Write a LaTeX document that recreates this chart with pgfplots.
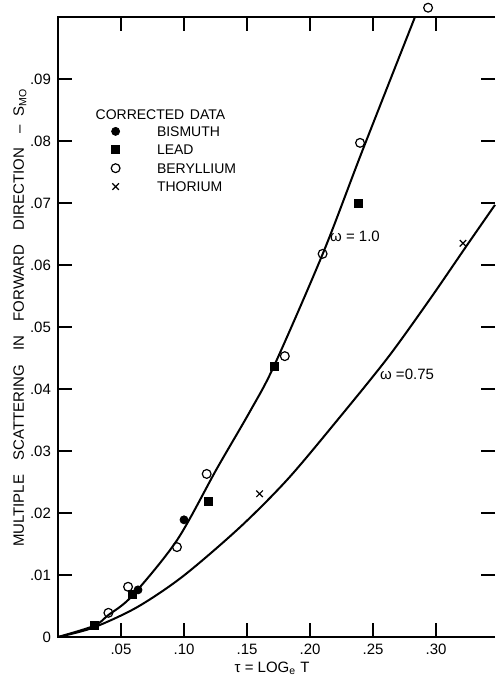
\documentclass[border=0pt]{standalone}
\usepackage{fontspec}
\setmainfont{Liberation Sans}
\usepackage{pgfplots}
\pgfplotsset{compat=1.18}
\pgfplotsset{
  lgmark/.style={legend image code/.code={%
    \draw[##1] plot coordinates {(0cm,0cm)};
    \path (-0.1cm,0cm) (0.65cm,0cm);}},
}

% curve of omega = 1.0
\pgfplotstableread{
x y
0 0
0.0286 0.0018
0.0397 0.0035
0.0587 0.0066
0.0944 0.0156
0.1262 0.0272
0.1524 0.0364
0.1714 0.0437
0.2103 0.0619
0.2413 0.0783
0.2833 0.1000
}\curveone
% curve of omega = 0.75
\pgfplotstableread{
x y
0 0
0.0278 0.0015
0.0627 0.0048
0.0992 0.0098
0.1444 0.0177
0.1825 0.0255
0.2222 0.0351
0.2619 0.0451
0.2952 0.0545
0.3246 0.0632
0.3468 0.0697
}\curvesevenfive

\begin{document}
\begin{tikzpicture}
\useasboundingbox (-29pt,-20pt) rectangle (218.5pt,318.5pt);
\begin{axis}[
  at={(0,0)}, anchor=south west,
  scale only axis, width=218.5pt, height=310pt,
  xmin=0, xmax=0.3468, ymin=0, ymax=0.1,
  clip=false,
  axis line style={draw=none},
  tick align=inside, xtick pos=both, ytick pos=both,
  xticklabel pos=bottom, yticklabel pos=left,
  major tick length=7pt,
  tick style={black, line width=0.8pt},
  scaled ticks=false,
  xtick={0.05,0.10,0.15,0.20,0.25,0.30},
  xticklabels={.05,.10,.15,.20,.25,.30},
  ytick={0,0.01,0.02,0.03,0.04,0.05,0.06,0.07,0.08,0.09},
  yticklabels={0,.01,.02,.03,.04,.05,.06,.07,.08,.09},
  ticklabel style={font=\fontsize{7.5}{9}\selectfont},
  xlabel={τ = LOG\textsubscript{e} T},
  xlabel style={at={(axis description cs:0.49,-0.050)}, anchor=center,
    font=\fontsize{7.5}{9}\selectfont},
  ylabel={MULTIPLE\hspace{0.95em}SCATTERING\hspace{0.95em}IN\hspace{0.95em}FORWARD\hspace{0.95em}DIRECTION\hspace{0.95em}–\hspace{0.6em}S\textsubscript{MO}},
  ylabel style={at={(axis description cs:-0.087,0.515)}, anchor=center,
    font=\fontsize{7.5}{9}\selectfont},
  legend style={at={(rel axis cs:0.117,0.831)}, anchor=north west,
    draw=none, fill=none, font=\fontsize{7}{8}\selectfont,
    row sep=0pt, inner sep=0pt,
    nodes={text height=5.2pt, text depth=0pt, inner sep=2.0pt}},
  legend cell align=left,
]
\addplot[black, line width=1pt, smooth, forget plot] table {\curveone};
\addplot[black, line width=1pt, smooth, forget plot] table {\curvesevenfive};

\addplot[only marks, mark=*, mark size=2pt, black, lgmark] coordinates
  {(0.0635,0.0076) (0.100,0.0189)};
\addlegendentry{BISMUTH}
\addplot[only marks, mark=square*, mark size=2pt, black, lgmark] coordinates
  {(0.0286,0.0018) (0.0587,0.0068) (0.119,0.0219) (0.1714,0.0437) (0.238,0.0700)};
\addlegendentry{LEAD}
\addplot[only marks, mark=o, mark size=2.2pt, black, lgmark,
  mark options={fill=white, line width=0.6pt}] coordinates
  {(0.040,0.0039) (0.0556,0.0081) (0.0944,0.0145) (0.118,0.0263) (0.180,0.0453)
   (0.210,0.0618) (0.2397,0.0797) (0.2937,0.1015)};
\addlegendentry{BERYLLIUM}
\addplot[only marks, mark=x, mark size=2.3pt, black, lgmark,
  mark options={line width=0.6pt}] coordinates
  {(0.160,0.0231) (0.3214,0.0635)};
\addlegendentry{THORIUM}

% frame: left, bottom and top (the right edge is cut off in the original)
\draw[black, line width=0.8pt] (rel axis cs:1,1) -- (rel axis cs:0,1)
  -- (rel axis cs:0,0) -- (rel axis cs:1,0);

\node[anchor=west, font=\fontsize{7}{8}\selectfont] at (rel axis cs:0.07,0.842) {CORRECTED\hspace{0.4em}DATA};
\node[font=\fontsize{7.5}{9}\selectfont] at (axis cs:0.2357,0.0647) {ω = 1.0};
\node[font=\fontsize{7.5}{9}\selectfont] at (axis cs:0.277,0.0423) {ω =0.75};
\end{axis}
\end{tikzpicture}
\end{document}
